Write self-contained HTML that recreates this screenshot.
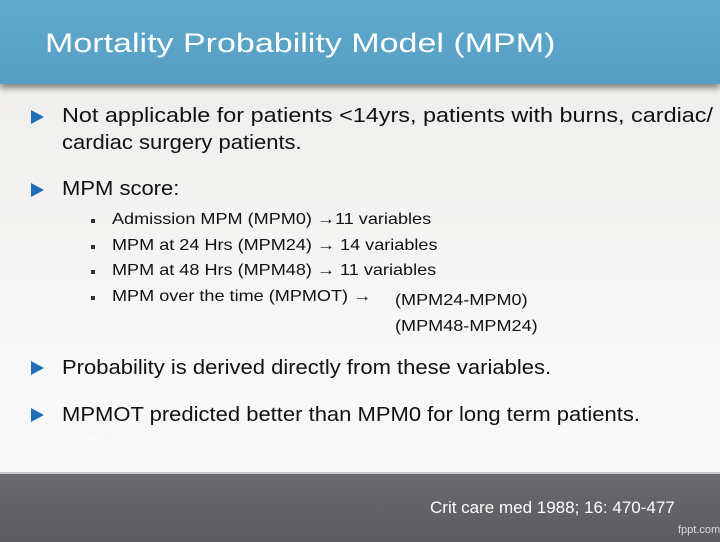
<!DOCTYPE html>
<html><head><meta charset="utf-8"><style>
body{margin:0;width:720px;height:540px;overflow:hidden;font-family:"Liberation Sans",sans-serif;background:linear-gradient(#ecebe8,#f7f7f7 60%,#fafafa);position:relative}
#hdr{position:absolute;left:0;top:0;width:720px;height:84px;background:linear-gradient(#5fa9cc,#579fc4);box-shadow:0 4px 6px rgba(0,0,0,.45)}
#hdr h1{position:absolute;left:45px;top:28px;margin:0;font-size:27px;font-weight:normal;color:#fff;transform:scaleX(1.26);transform-origin:0 0;white-space:nowrap}
.b{position:absolute;left:62px;font-size:20px;color:#111;line-height:27px;transform:scaleX(1.1);transform-origin:0 0;white-space:nowrap}
.tri{position:absolute;left:31px;width:0;height:0;border-top:7px solid transparent;border-bottom:7px solid transparent;border-left:13px solid #1f6db5}
.s{position:absolute;left:112px;font-size:16px;color:#111;transform:scaleX(1.13);transform-origin:0 0;white-space:nowrap}
.sq{position:absolute;left:91px;width:4px;height:4px;background:#333}
#ftr{position:absolute;left:0;top:472px;width:720px;height:68px;background:linear-gradient(#6a6a6e,#5b5b60);border-top:2px solid #c8c8c8}
</style></head><body>
<div id="hdr"><h1>Mortality Probability Model (MPM)</h1></div>
<div class="tri" style="top:110px"></div>
<div class="b" style="top:103px;transform:scaleX(1.17)">Not applicable for patients &lt;14yrs, patients with burns, cardiac/</div>
<div class="b" style="top:130px">cardiac surgery patients.</div>
<div class="tri" style="top:183px"></div>
<div class="b" style="top:176px">MPM score:</div>
<div class="sq" style="top:219px"></div><div class="s" style="top:211px">Admission MPM (MPM0) →11 variables</div>
<div class="sq" style="top:245px"></div><div class="s" style="top:237px">MPM at 24 Hrs (MPM24) → 14 variables</div>
<div class="sq" style="top:270px"></div><div class="s" style="top:262px">MPM at 48 Hrs (MPM48) → 11 variables</div>
<div class="sq" style="top:296px"></div><div class="s" style="top:288px">MPM over the time (MPMOT) →</div>
<div class="s" style="left:395px;top:288px;line-height:26px">(MPM24-MPM0)<br>(MPM48-MPM24)</div>
<div class="tri" style="top:361px"></div>
<div class="b" style="top:355px">Probability is derived directly from these variables.</div>
<div class="tri" style="top:408px"></div>
<div class="b" style="top:402px">MPMOT predicted better than MPM0 for long term patients.</div>
<div style="position:absolute;left:57px;top:428px;font-size:11px;color:#f4f4f4">Your company name</div>
<div id="ftr">
<div style="position:absolute;left:430px;top:24px;font-size:17px;color:#fff">Crit care med 1988; 16: 470-477</div>
<div style="position:absolute;left:678px;top:50px;font-size:11px;color:#ddd">fppt.com</div>
</div>
</body></html>
